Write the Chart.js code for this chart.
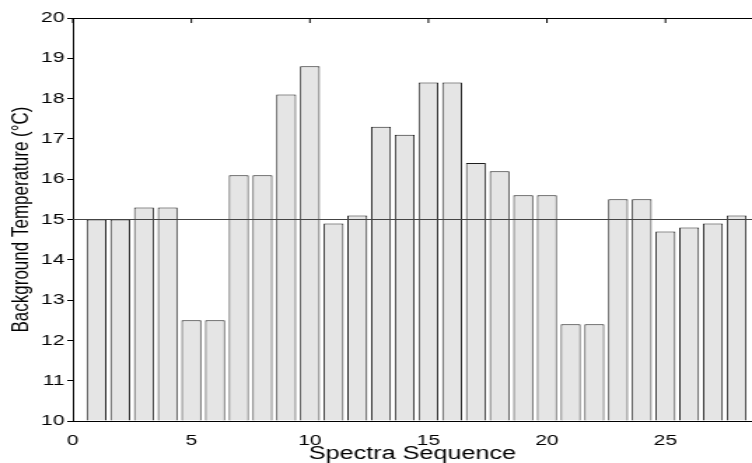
<!DOCTYPE html>
<html>
<head>
<meta charset="utf-8">
<script src="https://cdn.jsdelivr.net/npm/chart.js@4/dist/chart.umd.min.js"></script>
<style>
  html, body { margin: 0; padding: 0; background: #fff; }
  #grafico { display: block; }
</style>
</head>
<body>
<!-- la figura original esta estirada a lo ancho: se dibuja estrecha y se ensancha -->
<canvas id="grafico" width="537" height="463" style="width:752px;height:463px"></canvas>
<script>
// datos
const secuencia = [1, 2, 3, 4, 5, 6, 7, 8, 9, 10, 11, 12, 13, 14, 15, 16, 17, 18, 19, 20, 21, 22, 23, 24, 25, 26, 27, 28];
const temperaturas = [15.0, 15.0, 15.3, 15.3, 12.5, 12.5, 16.1, 16.1, 18.1, 18.8, 14.9, 15.1, 17.3, 17.1,
                      18.4, 18.4, 16.4, 16.2, 15.6, 15.6, 12.4, 12.4, 15.5, 15.5, 14.7, 14.8, 14.9, 15.1];
const referencia = 15;
const xTicks = [0, 5, 10, 15, 20, 25];
const yTicks = [10, 11, 12, 13, 14, 15, 16, 17, 18, 19, 20];
const xMax = 28.65;

const FUENTE = 'Liberation Sans, Arial, Helvetica, sans-serif';

// marco superior con marcas hacia dentro (estilo MATLAB)
const marcoSuperior = {
    id: 'marcoSuperior',
    afterDraw(chart) {
        const ctx = chart.ctx;
        const area = chart.chartArea;
        const x = chart.scales.x;
        ctx.save();
        ctx.strokeStyle = '#000';
        ctx.lineWidth = 1;
        ctx.beginPath();
        ctx.moveTo(area.left, area.top + 0.5);
        ctx.lineTo(area.right, area.top + 0.5);
        xTicks.forEach(function (v) {
            const px = x.getPixelForValue(v);
            ctx.moveTo(px, area.top);
            ctx.lineTo(px, area.top + 5);
        });
        ctx.stroke();
        ctx.restore();
    }
};

const ctx = document.getElementById('grafico').getContext('2d');
new Chart(ctx, {
    type: 'bar',
    data: {
        datasets: [{
            type: 'line',
            data: [{ x: 0, y: referencia }, { x: xMax, y: referencia }],
            borderColor: '#444',
            borderWidth: 1,
            pointRadius: 0,
            fill: false,
            order: 0
        }, {
            data: secuencia.map(function (s, i) { return { x: s, y: temperaturas[i] }; }),
            backgroundColor: '#e5e5e5',
            borderColor: '#1e1e1e',
            borderWidth: 1,
            base: 10,
            barPercentage: 0.84,
            categoryPercentage: 1,
            order: 1
        }]
    },
    options: {
        responsive: false,
        devicePixelRatio: 1,
        animation: false,
        layout: { padding: { top: 18, right: 0, left: 0, bottom: 0 } },
        plugins: {
            legend: { display: false },
            tooltip: { enabled: false }
        },
        scales: {
            x: {
                type: 'linear',
                min: 0,
                max: xMax,
                offset: false,
                afterBuildTicks: function (scale) {
                    scale.ticks = xTicks.map(function (v) { return { value: v }; });
                },
                afterFit: function (scale) { scale.height = 42; },
                ticks: {
                    color: '#000',
                    padding: 3,
                    maxRotation: 0,
                    font: { family: FUENTE, size: 15 }
                },
                grid: { display: false, offset: false },
                border: { display: true, color: '#000', width: 1 },
                title: {
                    display: true,
                    text: 'Spectra Sequence',
                    color: '#000',
                    padding: 0,
                    font: { family: FUENTE, size: 18, lineHeight: 1.0 }
                }
            },
            y: {
                min: 10,
                max: 20,
                afterBuildTicks: function (scale) {
                    scale.ticks = yTicks.map(function (v) { return { value: v }; });
                },
                afterFit: function (scale) { scale.width = 52; },
                ticks: {
                    color: '#000',
                    padding: 2,
                    font: { family: FUENTE, size: 15 }
                },
                grid: {
                    drawOnChartArea: false,
                    drawTicks: true,
                    tickLength: 4,
                    color: '#000'
                },
                border: { display: true, color: '#000', width: 1 },
                title: {
                    display: true,
                    text: 'Background Temperature (°C)',
                    color: '#000',
                    padding: { top: 5, bottom: 0 },
                    font: { family: FUENTE, size: 17, lineHeight: 1.2 }
                }
            }
        }
    },
    plugins: [marcoSuperior]
});
</script>
</body>
</html>
